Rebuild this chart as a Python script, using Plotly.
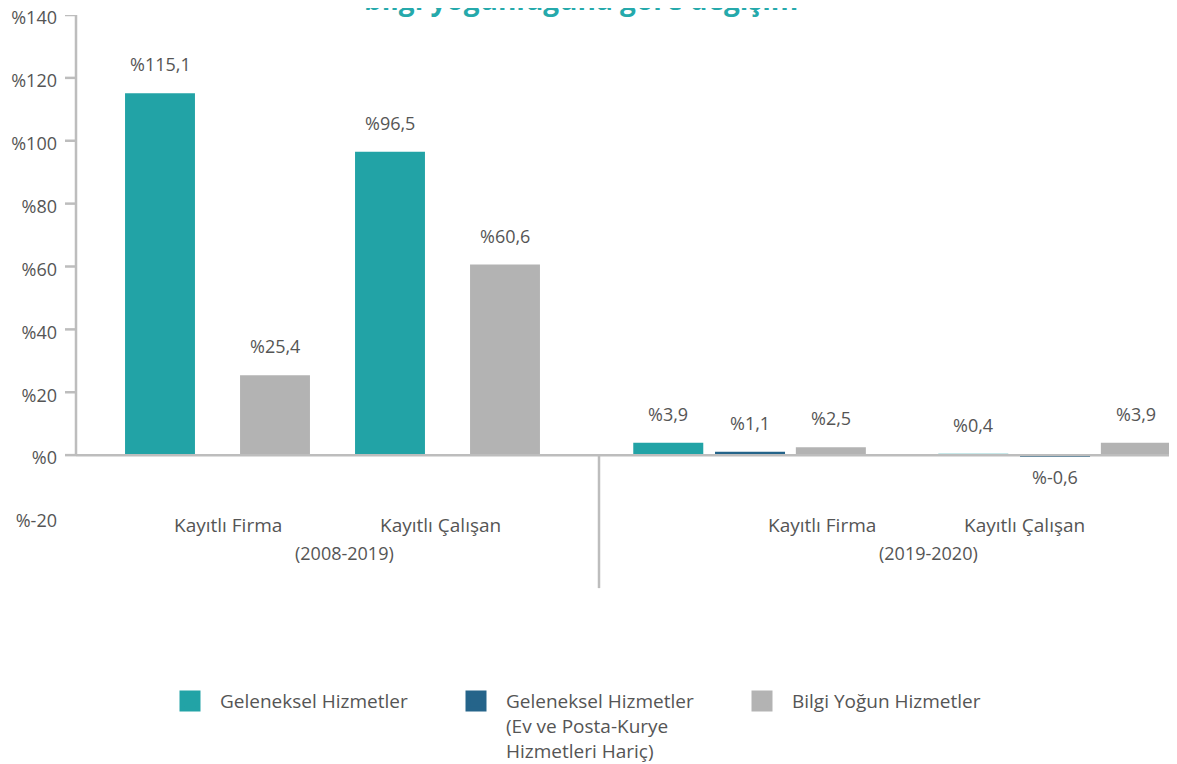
import plotly.graph_objects as go

# ---------------- data ----------------
categories = ["Kayıtlı Firma", "Kayıtlı Çalışan"]
periods = ["(2008-2019)", "(2019-2020)"]
series_names = [
    "Geleneksel Hizmetler",
    "Geleneksel Hizmetler<br>(Ev ve Posta-Kurye<br>Hizmetleri Hariç)",
    "Bilgi Yoğun Hizmetler",
]
geleneksel_2008_2019 = [115.1, 96.5]
bilgi_2008_2019 = [25.4, 60.6]
geleneksel_2019_2020 = [3.9, 0.4]
geleneksel_haric_2019_2020 = [1.1, -0.6]
bilgi_2019_2020 = [2.5, 3.9]
y_ticks = [-20, 0, 20, 40, 60, 80, 100, 120, 140]
y_tick_labels = ["%-20", "%0", "%20", "%40", "%60", "%80", "%100", "%120", "%140"]
title_text = "bilgi yoğunluğuna göre değişim"

# ---------------- style ----------------
TEAL = "#22A3A6"
NAVY = "#25648A"
GRAY = "#B3B3B3"
AXIS = "#BDBDBD"
TEXT = "#555555"
FONT = "Open Sans"
FS = 18       # numbers
FS_TXT = 19   # words

OFF = 8                      # page margin of the browser body
W, H = 1177 - OFF, 764 - OFF
ML, MR, MT = 76 - OFF, 3, 15 - OFF
PLOT_H = (455 - 15) * 160 / 140
MB = H - MT - PLOT_H
PLOT_W = W - ML - MR
SPLIT = (599 - OFF - ML) / PLOT_W


def px_y(p):
    return (MT + PLOT_H - (p - OFF)) / PLOT_H


def px_x(p):
    return (p - OFF - ML) / PLOT_W


LEFT_W = 0.304
RIGHT_W = 0.2295
left_series = [
    (geleneksel_2008_2019, TEAL, -0.25),
    (bilgi_2008_2019, GRAY, 0.25),
]
right_series = [
    (geleneksel_2019_2020, TEAL, -0.268),
    (geleneksel_haric_2019_2020, NAVY, 0.0),
    (bilgi_2019_2020, GRAY, 0.265),
]


def fmt(v):
    return "%" + f"{v:.1f}".replace(".", ",")


fig = go.Figure()
annotations = []

for xa, series, bw in (("x", left_series, LEFT_W), ("x2", right_series, RIGHT_W)):
    for vals, col, center in series:
        fig.add_trace(go.Bar(
            x=categories, y=vals, xaxis=xa, yaxis="y",
            marker=dict(color=col, line=dict(width=0)),
            width=bw, offset=center - bw / 2,
            showlegend=False, hoverinfo="y",
        ))
        for i, v in enumerate(vals):
            annotations.append(dict(
                xref=xa, yref="y", x=i + center, y=v,
                text=fmt(v), showarrow=False,
                yanchor="middle", yshift=29 if v >= 0 else -20,
                font=dict(family=FONT, size=FS, color=TEXT),
            ))

# legend entries
for name, col in zip(series_names, [TEAL, NAVY, GRAY]):
    fig.add_trace(go.Scatter(
        x=[None], y=[None], xaxis="x", yaxis="y", mode="markers", name=name,
        marker=dict(symbol="square", size=16, color=col, line=dict(color=col, width=5)),
    ))

# category and period labels
cat_shift = {"x": [10, -7.5], "x2": [72, -31]}
period_shift = {"x": 11.5, "x2": 25.5}
for xa, per in zip(("x", "x2"), periods):
    for i, c in enumerate(categories):
        annotations.append(dict(
            xref=xa, yref="y", x=i, y=-20, text=c, showarrow=False,
            xshift=cat_shift[xa][i], yshift=-7, yanchor="middle",
            font=dict(family=FONT, size=FS_TXT, color=TEXT),
        ))
    annotations.append(dict(
        xref=xa, yref="y", x=0.5, y=-20, text=per, showarrow=False,
        xshift=period_shift[xa], yshift=-35, yanchor="middle",
        font=dict(family=FONT, size=FS, color=TEXT),
    ))

# cropped title (only its lower part is visible, as in the reference)
annotations.append(dict(
    xref="paper", yref="paper", x=px_x(581), y=1, yanchor="middle", yshift=16,
    text="<b>" + title_text + "</b>", showarrow=False,
    font=dict(family=FONT, size=28, color="#25A9AB"),
))

shapes = []
line = dict(color=AXIS, width=2.5)
shapes.append(dict(type="line", xref="paper", yref="y", x0=0, x1=1, y0=0, y1=0,
                   line=line, layer="above"))
shapes.append(dict(type="line", xref="paper", yref="y", x0=0, x1=0, y0=0, y1=max(y_ticks),
                   line=line, layer="above"))
for v in y_ticks:
    if v >= 0:
        shapes.append(dict(type="line", xref="paper", yref="y", xsizemode="pixel", xanchor=0,
                           x0=-11, x1=0, y0=v, y1=v, line=line, layer="above"))
shapes.append(dict(type="line", xref="paper", yref="paper", ysizemode="pixel",
                   yanchor=(0 - y_ticks[0]) / (y_ticks[-1] - y_ticks[0]),
                   x0=SPLIT, x1=SPLIT, y0=0, y1=-133, line=line, layer="above"))

axis_common = dict(showticklabels=False, showline=False, showgrid=False, zeroline=False,
                   ticks="", fixedrange=True)

fig.update_layout(
    width=W, height=H,
    margin=dict(l=ML, r=MR, t=MT, b=MB, autoexpand=False),
    paper_bgcolor="white", plot_bgcolor="white",
    barmode="overlay",
    font=dict(family=FONT, size=FS, color=TEXT),
    xaxis=dict(domain=[0, SPLIT], range=[-0.6152, 1.6587], anchor="y", **axis_common),
    xaxis2=dict(domain=[SPLIT, 1], range=[-0.4951, 1.390], anchor="y", **axis_common),
    yaxis=dict(range=[y_ticks[0], y_ticks[-1]], tickvals=y_ticks, ticktext=y_tick_labels,
               showgrid=False, zeroline=False, showline=False, ticks="",
               ticklabelstandoff=18, ticklabelshift=3, ticklabeloverflow="allow",
               tickfont=dict(family=FONT, size=FS, color=TEXT), fixedrange=True),
    showlegend=True,
    legend=dict(orientation="h", x=px_x(160), xanchor="left", y=px_y(682), yanchor="top",
                itemwidth=50, entrywidth=221, valign="top", traceorder="normal",
                bgcolor="rgba(0,0,0,0)", font=dict(family=FONT, size=FS_TXT, color=TEXT),
                itemclick=False, itemdoubleclick=False),
    annotations=annotations,
    shapes=shapes,
)

fig.write_html("out.html")
